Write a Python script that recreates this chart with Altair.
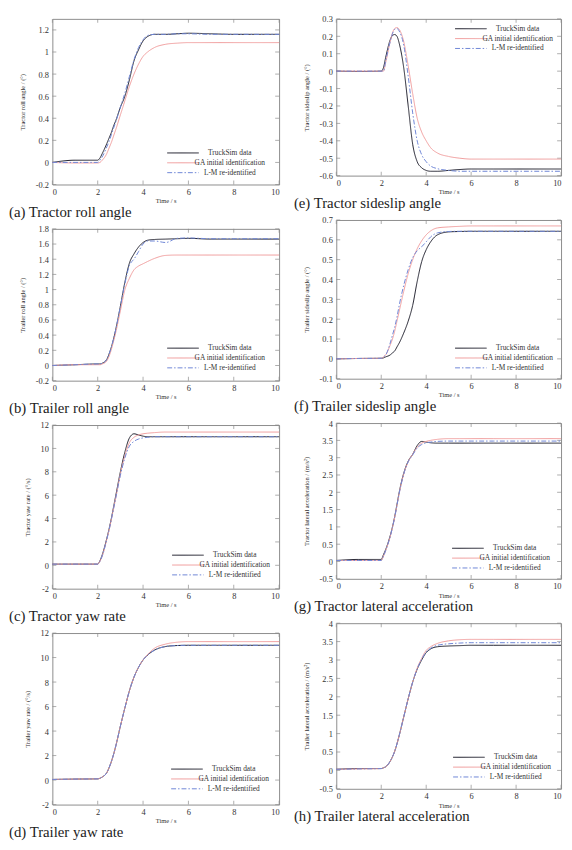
import altair as alt
import pandas as pd

SERIF = "Liberation Serif"
FRAME = "#8c8c8c"
TEXT = "#333333"

SERIES = ["TruckSim data", "GA initial identification", "L-M re-identified"]
COLORS = ["#1e1e2c", "#f09c9c", "#6f86d6"]
DASHES = [[1, 0], [1, 0], [5, 2, 1.5, 2]]

TIME = [0, 1, 2, 2.1, 2.2, 2.4, 2.5, 2.6, 2.7, 2.8, 3.0, 3.2, 3.4, 3.6, 3.8,
        4.0, 4.2, 4.5, 5, 5.5, 6, 7, 8, 10]
X_TICKS = [0, 2, 4, 6, 8, 10]

# (a) Tractor roll angle
A_TS = [0.0, 0.02, 0.02, 0.04, 0.08, 0.17, 0.22, 0.27, 0.33, 0.38, 0.50, 0.60, 0.75, 0.92, 1.02,
        1.10, 1.14, 1.16, 1.16, 1.165, 1.17, 1.165, 1.16, 1.16]
A_GA = [0.0, -0.005, -0.005, 0.0, 0.02, 0.08, 0.13, 0.18, 0.24, 0.30, 0.43, 0.56, 0.69, 0.80, 0.89,
        0.96, 1.00, 1.04, 1.07, 1.08, 1.085, 1.085, 1.085, 1.085]
A_LM = [0.0, 0.0, 0.0, 0.02, 0.05, 0.14, 0.19, 0.25, 0.31, 0.37, 0.50, 0.63, 0.78, 0.93, 1.04,
        1.11, 1.15, 1.16, 1.16, 1.165, 1.165, 1.16, 1.16, 1.16]
A_TICKS = [-0.2, 0, 0.2, 0.4, 0.6, 0.8, 1, 1.2]

# (b) Trailer roll angle
B_TS = [0.0, 0.01, 0.02, 0.02, 0.03, 0.08, 0.15, 0.24, 0.35, 0.48, 0.78, 1.10, 1.35, 1.47, 1.56,
        1.62, 1.65, 1.66, 1.665, 1.67, 1.675, 1.665, 1.665, 1.665]
B_GA = [0.0, 0.01, 0.01, 0.01, 0.02, 0.06, 0.12, 0.21, 0.32, 0.44, 0.72, 1.00, 1.15, 1.26, 1.31,
        1.34, 1.37, 1.41, 1.45, 1.455, 1.455, 1.455, 1.455, 1.455]
B_LM = [0.0, 0.01, 0.02, 0.02, 0.03, 0.08, 0.15, 0.24, 0.35, 0.48, 0.78, 1.08, 1.32, 1.40, 1.50,
        1.60, 1.64, 1.64, 1.62, 1.675, 1.68, 1.67, 1.67, 1.67]
B_TICKS = [-0.2, 0, 0.2, 0.4, 0.6, 0.8, 1, 1.2, 1.4, 1.6, 1.8]

# (c) Tractor yaw rate
C_TS = [0.1, 0.1, 0.1, 0.4, 0.9, 2.3, 3.1, 4.0, 5.0, 6.0, 8.0, 9.7, 10.9, 11.25, 11.15,
        11.05, 11.0, 11.0, 11.0, 11.0, 11.0, 11.0, 11.0, 11.0]
C_GA = [0.1, 0.1, 0.1, 0.35, 0.8, 2.2, 3.0, 3.9, 4.85, 5.8, 7.8, 9.4, 10.5, 10.95, 11.15,
        11.25, 11.3, 11.35, 11.4, 11.4, 11.4, 11.4, 11.4, 11.4]
C_LM = [0.1, 0.1, 0.1, 0.35, 0.8, 2.2, 3.0, 3.9, 4.85, 5.8, 7.7, 9.2, 10.2, 10.6, 10.8,
        10.9, 10.95, 11.0, 11.0, 11.0, 11.0, 11.0, 11.0, 11.0]
C_TICKS = [-2, 0, 2, 4, 6, 8, 10, 12]

# (d) Trailer yaw rate
D_TS = [0.05, 0.08, 0.1, 0.15, 0.25, 0.6, 1.0, 1.5, 2.1, 2.8, 4.4, 5.9, 7.3, 8.4, 9.2,
        9.8, 10.2, 10.6, 10.9, 10.98, 11.0, 11.0, 11.0, 11.0]
D_GA = [0.05, 0.08, 0.1, 0.15, 0.25, 0.6, 1.0, 1.5, 2.1, 2.8, 4.4, 5.9, 7.3, 8.4, 9.2,
        9.8, 10.25, 10.75, 11.1, 11.25, 11.3, 11.3, 11.3, 11.3]
D_LM = [0.05, 0.08, 0.1, 0.15, 0.25, 0.6, 1.0, 1.5, 2.1, 2.8, 4.4, 5.9, 7.3, 8.4, 9.2,
        9.8, 10.2, 10.6, 10.9, 10.98, 11.0, 11.0, 11.0, 11.0]
D_TICKS = [-2, 0, 2, 4, 6, 8, 10, 12]

# (e) Tractor sideslip angle
E_TS = [0.0, -0.002, 0.0, 0.02, 0.08, 0.18, 0.205, 0.21, 0.20, 0.16, 0.02, -0.20, -0.42, -0.52, -0.555,
        -0.57, -0.575, -0.575, -0.57, -0.565, -0.562, -0.562, -0.562, -0.562]
E_GA = [0.0, 0.0, 0.0, 0.0, 0.05, 0.17, 0.22, 0.245, 0.25, 0.24, 0.17, 0.03, -0.13, -0.27, -0.35,
        -0.40, -0.44, -0.47, -0.49, -0.50, -0.505, -0.505, -0.505, -0.505]
E_LM = [0.0, 0.0, 0.0, 0.0, 0.06, 0.17, 0.215, 0.24, 0.245, 0.23, 0.15, -0.03, -0.24, -0.40, -0.48,
        -0.52, -0.545, -0.56, -0.57, -0.575, -0.575, -0.575, -0.575, -0.575]
E_TICKS = [-0.6, -0.5, -0.4, -0.3, -0.2, -0.1, 0, 0.1, 0.2, 0.3]

# (f) Trailer sideslip angle
F_TS = [0.0, 0.002, 0.003, 0.005, 0.01, 0.02, 0.03, 0.04, 0.06, 0.08, 0.13, 0.19, 0.27, 0.39, 0.49,
        0.55, 0.59, 0.625, 0.64, 0.642, 0.643, 0.643, 0.643, 0.643]
F_GA = [0.0, 0.002, 0.003, 0.01, 0.02, 0.07, 0.10, 0.14, 0.19, 0.24, 0.34, 0.43, 0.50, 0.555, 0.595,
        0.625, 0.645, 0.66, 0.665, 0.668, 0.67, 0.67, 0.67, 0.67]
F_LM = [0.0, 0.002, 0.003, 0.01, 0.02, 0.08, 0.12, 0.16, 0.21, 0.27, 0.37, 0.45, 0.51, 0.545, 0.565,
        0.59, 0.615, 0.635, 0.642, 0.643, 0.643, 0.643, 0.643, 0.643]
F_TICKS = [-0.1, 0, 0.1, 0.2, 0.3, 0.4, 0.5, 0.6, 0.7]

# (g) Tractor lateral acceleration
G_TS = [0.03, 0.06, 0.06, 0.2, 0.35, 0.75, 1.0, 1.3, 1.65, 2.0, 2.55, 2.9, 3.1, 3.35, 3.47,
        3.45, 3.43, 3.42, 3.42, 3.42, 3.42, 3.42, 3.42, 3.42]
G_GA = [0.03, 0.03, 0.03, 0.15, 0.32, 0.72, 0.98, 1.28, 1.62, 1.97, 2.52, 2.88, 3.1, 3.3, 3.42,
        3.47, 3.5, 3.53, 3.55, 3.55, 3.55, 3.55, 3.55, 3.55]
G_LM = [0.03, 0.03, 0.03, 0.15, 0.32, 0.72, 0.98, 1.28, 1.62, 1.97, 2.52, 2.88, 3.08, 3.28, 3.38,
        3.43, 3.45, 3.47, 3.48, 3.48, 3.48, 3.48, 3.48, 3.48]
G_TICKS = [-0.5, 0, 0.5, 1, 1.5, 2, 2.5, 3, 3.5, 4]

# (h) Trailer lateral acceleration
H_TS = [0.03, 0.05, 0.05, 0.07, 0.1, 0.25, 0.37, 0.52, 0.72, 0.95, 1.45, 1.95, 2.4, 2.75, 3.0,
        3.2, 3.3, 3.36, 3.38, 3.39, 3.4, 3.4, 3.4, 3.4]
H_GA = [0.03, 0.04, 0.05, 0.07, 0.1, 0.25, 0.37, 0.52, 0.72, 0.95, 1.45, 1.95, 2.4, 2.78, 3.05,
        3.26, 3.36, 3.45, 3.52, 3.55, 3.56, 3.56, 3.56, 3.56]
H_LM = [0.03, 0.04, 0.05, 0.07, 0.1, 0.25, 0.37, 0.52, 0.72, 0.95, 1.45, 1.95, 2.4, 2.76, 3.02,
        3.22, 3.32, 3.4, 3.44, 3.46, 3.47, 3.47, 3.47, 3.47]
H_TICKS = [-0.5, 0, 0.5, 1, 1.5, 2, 2.5, 3, 3.5, 4]

LEFT = [
    dict(caption="(a) Tractor roll angle", ytitle="Tractor roll angle / (°)",
         domain=[-0.2, 1.3], ticks=A_TICKS, values=(A_TS, A_GA, A_LM), height=168, lx=116, ly=132),
    dict(caption="(b) Trailer roll angle", ytitle="Trailer roll angle / (°)",
         domain=[-0.2, 1.8], ticks=B_TICKS, values=(B_TS, B_GA, B_LM), height=154, lx=116, ly=117),
    dict(caption="(c) Tractor yaw rate", ytitle="Tractor yaw rate / (°/s)",
         domain=[-2, 12], ticks=C_TICKS, values=(C_TS, C_GA, C_LM), height=166, lx=121, ly=128),
    dict(caption="(d) Trailer yaw rate", ytitle="Trailer yaw rate / (°/s)",
         domain=[-2, 12], ticks=D_TICKS, values=(D_TS, D_GA, D_LM), height=174, lx=120, ly=134),
]
RIGHT = [
    dict(caption="(e) Tractor sideslip angle", ytitle="Tractor sideslip angle / (°)",
         domain=[-0.6, 0.3], ticks=E_TICKS, values=(E_TS, E_GA, E_LM), height=159, lx=120, ly=6),
    dict(caption="(f) Trailer sideslip angle", ytitle="Trailer sideslip angle / (°)",
         domain=[-0.1, 0.7], ticks=F_TICKS, values=(F_TS, F_GA, F_LM), height=161, lx=120, ly=126),
    dict(caption="(g) Tractor lateral acceleration", ytitle="Tractor lateral acceleration / (m/s²)",
         domain=[-0.5, 4], ticks=G_TICKS, values=(G_TS, G_GA, G_LM), height=158, lx=117, ly=123),
    dict(caption="(h) Trailer lateral acceleration", ytitle="Trailer lateral acceleration / (m/s²)",
         domain=[-0.5, 4], ticks=H_TICKS, values=(H_TS, H_GA, H_LM), height=168, lx=118, ly=132),
]


def panel(p, width, cap_dx):
    h = p["height"]
    rows = []
    for s, vals in zip(SERIES, p["values"]):
        for t, v in zip(TIME, vals):
            rows.append({"t": t, "v": v, "series": s})
    df = pd.DataFrame(rows)
    x = alt.X("t:Q", scale=alt.Scale(domain=[0, 10], nice=False),
              axis=alt.Axis(values=X_TICKS, title="Time / s", labelExpr="'' + datum.value"))
    y = alt.Y("v:Q", scale=alt.Scale(domain=p["domain"], nice=False, zero=False),
              axis=alt.Axis(values=p["ticks"], title=p["ytitle"], labelExpr="'' + datum.value",
                            labelOverlap=False))
    leg = alt.Legend(orient="none", legendX=p["lx"], legendY=p["ly"], title=None,
                     symbolType="stroke", symbolSize=1024, symbolStrokeWidth=1,
                     clipHeight=8, labelFont=SERIF, labelFontSize=7.5, labelColor=TEXT,
                     labelAlign="center", labelOffset=31, rowPadding=2, padding=0)
    color = alt.Color("series:N", scale=alt.Scale(domain=SERIES, range=COLORS), legend=leg)
    dash = alt.StrokeDash("series:N", scale=alt.Scale(domain=SERIES, range=DASHES), legend=leg)
    lines = alt.Chart(df).mark_line(interpolate="monotone", strokeWidth=1).encode(
        x=x, y=y, color=color, strokeDash=dash)
    xt = pd.DataFrame({"t": X_TICKS})
    yt = pd.DataFrame({"v": p["ticks"]})
    tb = alt.Chart(xt).mark_tick(size=4, thickness=1, color=FRAME).encode(x=x, y=alt.value(h - 2))
    tt = alt.Chart(xt).mark_tick(size=4, thickness=1, color=FRAME).encode(x=x, y=alt.value(2))
    tl = alt.Chart(yt).mark_tick(size=4, thickness=1, color=FRAME).encode(y=y, x=alt.value(2))
    tr = alt.Chart(yt).mark_tick(size=4, thickness=1, color=FRAME).encode(y=y, x=alt.value(width - 2))
    return alt.layer(tb, tt, tl, tr, lines).properties(
        width=width, height=h,
        title=alt.Title(p["caption"], orient="bottom", anchor="start", frame="group",
                        dx=cap_dx, offset=1, font=SERIF, fontSize=15,
                        fontWeight="normal", color="#222222"))


left = alt.vconcat(*[panel(p, 230, -44) for p in LEFT], spacing=45, bounds="flush").resolve_scale(
    color="independent", strokeDash="independent")
right = alt.vconcat(*[panel(p, 228, -43) for p in RIGHT], spacing=45, bounds="flush").resolve_scale(
    color="independent", strokeDash="independent")

chart = alt.hconcat(left, right, spacing=11).resolve_scale(
    color="independent", strokeDash="independent"
).properties(padding=0).configure_view(
    stroke=FRAME, strokeWidth=1
).configure_axis(
    domain=False, ticks=False, grid=False,
    labelFont=SERIF, labelFontSize=8.5, labelColor=TEXT,
    titleFont=SERIF, titleFontSize=6.5, titleFontWeight="normal", titleColor=TEXT
).configure_axisX(
    labelPadding=3, titlePadding=2
).configure_axisY(
    labelPadding=4, titlePadding=10
)

chart.save("out.html", embed_options={"renderer": "svg", "actions": False})
